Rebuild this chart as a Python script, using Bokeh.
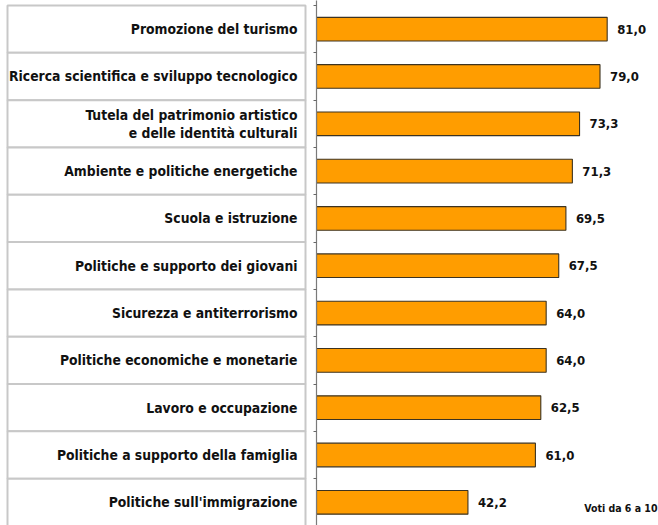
from bokeh.plotting import figure
from bokeh.layouts import row
from bokeh.models import Range1d, LinearAxis, FixedTicker, ColumnDataSource
from bokeh.core.properties import value
from bokeh.embed import file_html
from bokeh.resources import INLINE

categories = [
    "Promozione del turismo",
    "Ricerca scientifica e sviluppo tecnologico",
    "Tutela del patrimonio artistico\ne delle identità culturali",
    "Ambiente e politiche energetiche",
    "Scuola e istruzione",
    "Politiche e supporto dei giovani",
    "Sicurezza e antiterrorismo",
    "Politiche economiche e monetarie",
    "Lavoro e occupazione",
    "Politiche a supporto della famiglia",
    "Politiche sull'immigrazione",
]
values = [81.0, 79.0, 73.3, 71.3, 69.5, 67.5, 64.0, 64.0, 62.5, 61.0, 42.2]
value_labels = ["81,0", "79,0", "73,3", "71,3", "69,5", "67,5", "64,0", "64,0", "62,5", "61,0", "42,2"]
note = "Voti da 6 a 10"

FONT = "DejaVu Sans Condensed"

n = len(categories)
pos = [i + 0.5 for i in range(n)]
idx = list(range(n))

y_range = Range1d(start=10.99, end=-0.106)

# ---- left: table of category labels ----
left = figure(width=308, height=525, output_backend="svg", toolbar_location=None,
              x_range=Range1d(0, 308), y_range=y_range,
              x_axis_location=None, y_axis_location=None,
              min_border=0, min_border_left=0, min_border_right=0,
              min_border_top=0, min_border_bottom=0)
left.outline_line_color = None
left.xgrid.visible = False
left.ygrid.visible = False

src_left = ColumnDataSource(dict(top=idx, bottom=[i + 1 for i in idx], cat=categories, y=pos))
left.quad(left=7, right=305, top="top", bottom="bottom", source=src_left,
          fill_color="white", line_color="#c8c8c8", line_width=2)
left.text(x=297, y="y", text="cat", source=src_left,
          text_align="right", text_baseline="middle",
          text_font=value(FONT), text_font_style="bold", text_font_size="13.8px",
          text_color="#111111", text_line_height=1.1)

# ---- right: bars ----
right = figure(width=350, height=525, output_backend="svg", toolbar_location=None,
               x_range=Range1d(0, 95.3), y_range=y_range,
               x_axis_location=None, y_axis_location=None,
               min_border=0, min_border_left=8, min_border_right=0,
               min_border_top=0, min_border_bottom=0)
right.outline_line_color = None
right.xgrid.visible = False
right.ygrid.visible = False

ax = LinearAxis(ticker=FixedTicker(ticks=list(range(n + 1))))
ax.axis_line_color = "#7a7a7a"
ax.axis_line_width = 1.2
ax.major_tick_line_color = "#666666"
ax.major_tick_out = 3
ax.major_tick_in = 0
ax.minor_tick_line_color = None
ax.major_label_text_font_size = "0px"
ax.major_label_standoff = 0
right.add_layout(ax, "left")

src = ColumnDataSource(dict(y=pos, v=values, lab=value_labels))
right.hbar(y="y", left=0, right="v", height=0.5, source=src,
           fill_color="#FF9D00", line_color="#3d3320", line_width=1.1)
right.text(x="v", y="y", text="lab", source=src, x_offset=10,
           text_align="left", text_baseline="middle",
           text_font=value(FONT), text_font_style="bold", text_font_size="13px",
           text_color="#111111")
right.text(x=[95.3], y=[pos[-1]], text=[note], x_offset=-1, y_offset=6,
           text_align="right", text_baseline="middle",
           text_font=value(FONT), text_font_style="bold", text_font_size="10.5px",
           text_color="#111111")

layout = row(left, right, spacing=0)
open("out.html", "w").write(file_html(layout, INLINE))
